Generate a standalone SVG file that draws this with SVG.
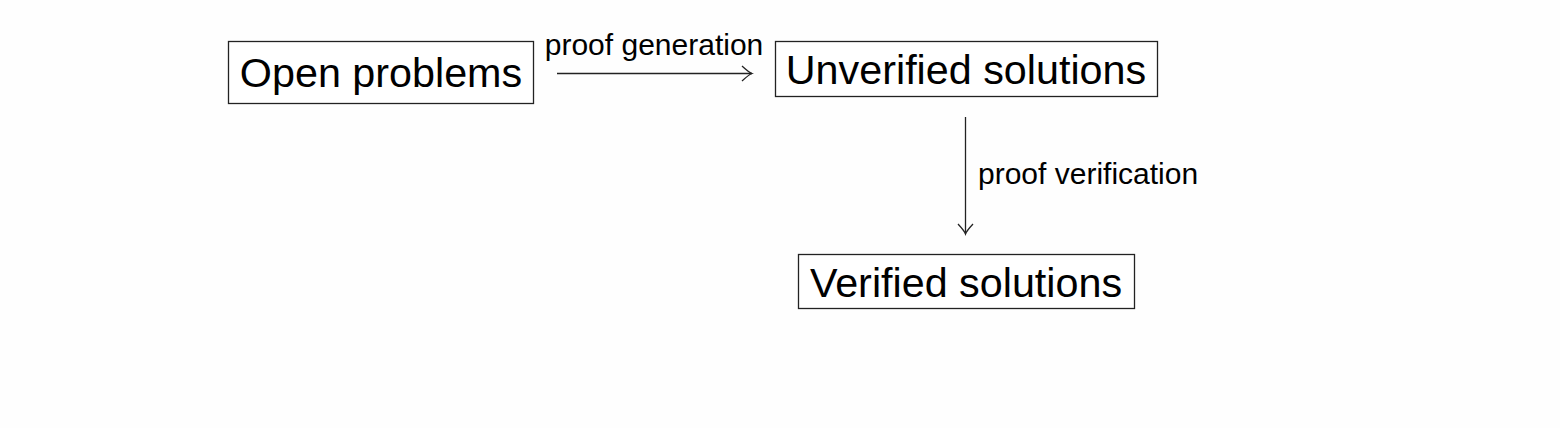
<svg xmlns="http://www.w3.org/2000/svg" width="1560" height="428" viewBox="0 0 1560 428">
<style>
.box{fill:#fff;stroke:#222;stroke-width:1.3}
.t{font-family:"Liberation Sans",Arial,sans-serif;fill:#000}
.big{font-size:41.3px}
.lab{font-size:30px}
.edge{fill:none;stroke:#222;stroke-width:1.3}
</style>
<defs>
<marker id="tip" viewBox="-13 -9 15 18" markerWidth="15" markerHeight="18" refX="0" refY="0" orient="auto" markerUnits="userSpaceOnUse">
<path d="M-10,-7.5 Q-3,-1 0,0 Q-3,1 -10,7.5" fill="none" stroke="#222" stroke-width="1.3"/>
</marker>
</defs>
<rect width="1560" height="428" fill="#fefefe"/>
<g id="open">
<rect class="box" x="228.5" y="41.5" width="305" height="62"/>
<text class="t big" x="381" y="87" text-anchor="middle">Open problems</text>
</g>
<g id="unverified">
<rect class="box" x="775.5" y="41.5" width="382" height="55"/>
<text class="t big" x="966" y="84" text-anchor="middle">Unverified solutions</text>
</g>
<g id="verified">
<rect class="box" x="798.5" y="254.5" width="336" height="54"/>
<text class="t big" x="966" y="297" text-anchor="middle">Verified solutions</text>
</g>
<g id="connectors">
<path class="edge" d="M557,73.5 H752" marker-end="url(#tip)"/>
<text class="t lab" x="654" y="55" text-anchor="middle">proof generation</text>
<path class="edge" d="M965.5,117 V234" marker-end="url(#tip)"/>
<text class="t lab" x="978" y="184">proof verification</text>
</g>
</svg>
